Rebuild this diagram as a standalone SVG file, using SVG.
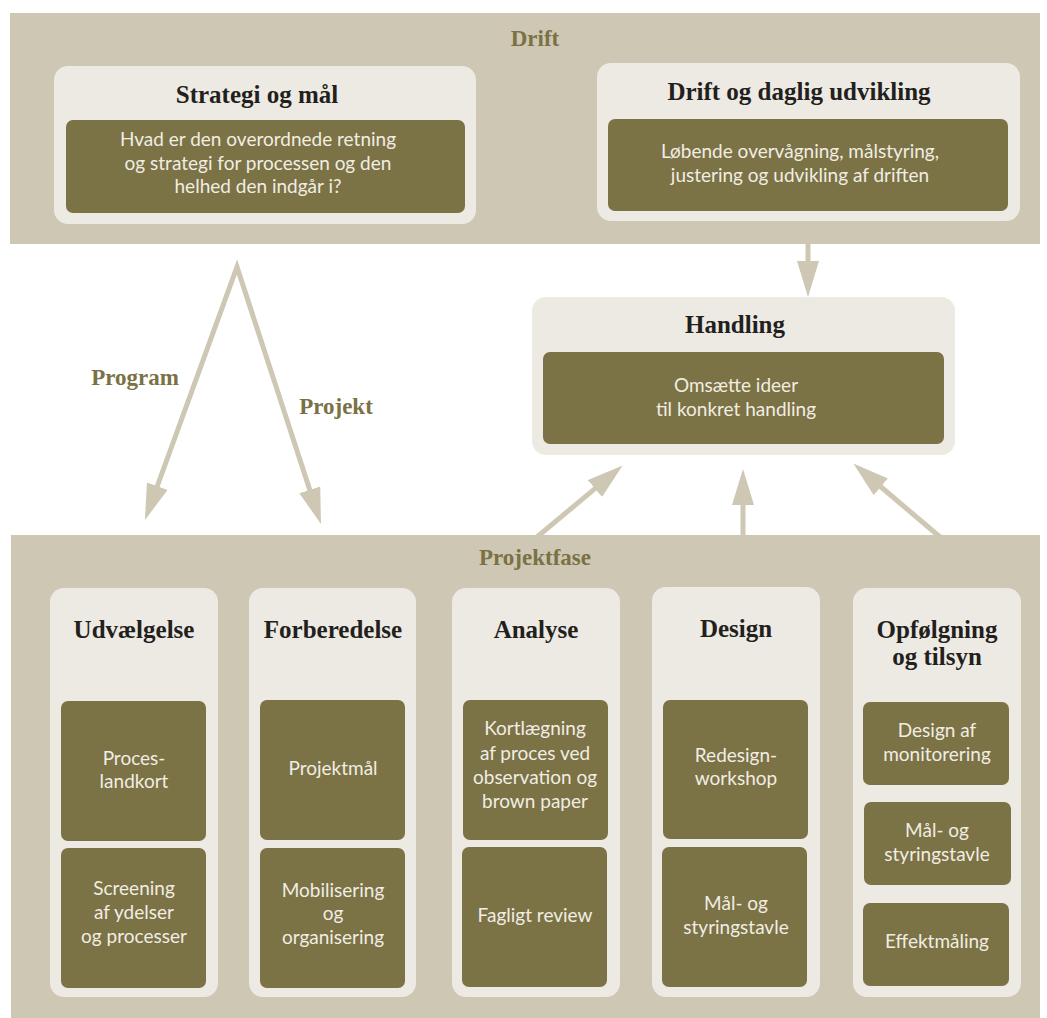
<svg xmlns="http://www.w3.org/2000/svg" width="1047" height="1018" viewBox="0 0 1047 1018">
<defs>
<style>
.band{fill:#cec7b4}
.outer{fill:#edeae4}
.inner{fill:#7b7245}
.title{font-family:"Liberation Serif",serif;font-weight:bold;font-size:25px;fill:#231f1c;text-anchor:middle}
.label{font-family:"Liberation Serif",serif;font-weight:bold;font-size:23px;fill:#7a7245;text-anchor:middle}
.body{font-family:Lato,"Open Sans",sans-serif;font-size:19px;fill:#f1ede3;text-anchor:middle}
.conn{fill:none;stroke:#cec7b4;stroke-width:5;stroke-linejoin:miter;stroke-miterlimit:20}
</style>
<marker id="ah" markerUnits="userSpaceOnUse" markerWidth="36" markerHeight="22" viewBox="0 0 36 22" refX="2" refY="11" orient="auto-start-reverse">
<path d="M0,0 L36,11 L0,22 z" fill="#cec7b4"/>
</marker>
</defs>
<rect width="1047" height="1018" fill="#ffffff"/>
<g id="band-drift">
<rect class="band" x="10" y="13" width="1030" height="231"/>
<text class="label" x="535" y="46">Drift</text>
</g>
<g id="band-projektfase">
<rect class="band" x="11" y="535" width="1029" height="483"/>
<text class="label" x="535" y="565">Projektfase</text>
</g>
<g id="connectors">
<path class="conn" d="M597,147 L515,147" marker-end="url(#ah)"/>
<path class="conn" d="M808,240 L808,263" marker-end="url(#ah)"/>
<path class="conn" d="M156.6,488 L237,267 L310.4,491.7" marker-start="url(#ah)" marker-end="url(#ah)"/>
<path class="conn" d="M537,537 L596.5,487.3" marker-end="url(#ah)"/>
<path class="conn" d="M743,537 L743,503" marker-end="url(#ah)"/>
<path class="conn" d="M940,537 L879.3,485.5" marker-end="url(#ah)"/>
<text class="label" x="135" y="385">Program</text>
<text class="label" x="336" y="414">Projekt</text>
</g>
<g id="strategi">
<rect class="outer" x="54" y="66" width="422" height="158" rx="14"/>
<text class="title" x="257" y="103">Strategi og mål</text>
<rect class="inner" x="66" y="120" width="399" height="93" rx="7"/>
<text class="body" x="258" y="146">Hvad er den overordnede retning</text>
<text class="body" x="258" y="170">og strategi for processen og den</text>
<text class="body" x="258" y="193">helhed den indgår i?</text>
</g>
<g id="drift-daglig">
<rect class="outer" x="597" y="63" width="423" height="158" rx="14"/>
<text class="title" x="799" y="100">Drift og daglig udvikling</text>
<rect class="inner" x="608" y="119" width="400" height="92" rx="7"/>
<text class="body" x="800" y="158">Løbende overvågning, målstyring,</text>
<text class="body" x="800" y="182">justering og udvikling af driften</text>
</g>
<g id="handling">
<rect class="outer" x="532" y="297" width="423" height="158" rx="14"/>
<text class="title" x="735" y="333">Handling</text>
<rect class="inner" x="543" y="352" width="401" height="92" rx="7"/>
<text class="body" x="736" y="392">Omsætte ideer</text>
<text class="body" x="736" y="416">til konkret handling</text>
</g>
<g id="udvaelgelse">
<rect class="outer" x="50" y="588" width="168" height="409" rx="14"/>
<text class="title" x="134" y="638">Udvælgelse</text>
<rect class="inner" x="61" y="701" width="145" height="140" rx="7"/>
<text class="body" x="134" y="765">Proces-</text>
<text class="body" x="134" y="788">landkort</text>
<rect class="inner" x="61" y="848" width="145" height="140" rx="7"/>
<text class="body" x="134" y="895">Screening</text>
<text class="body" x="134" y="919">af ydelser</text>
<text class="body" x="134" y="943">og processer</text>
</g>
<g id="forberedelse">
<rect class="outer" x="249" y="588" width="167" height="409" rx="14"/>
<text class="title" x="333" y="638">Forberedelse</text>
<rect class="inner" x="260" y="700" width="145" height="140" rx="7"/>
<text class="body" x="333" y="775">Projektmål</text>
<rect class="inner" x="260" y="848" width="145" height="140" rx="7"/>
<text class="body" x="333" y="897">Mobilisering</text>
<text class="body" x="333" y="920">og</text>
<text class="body" x="333" y="944">organisering</text>
</g>
<g id="analyse">
<rect class="outer" x="452" y="588" width="168" height="409" rx="14"/>
<text class="title" x="536" y="638">Analyse</text>
<rect class="inner" x="463" y="700" width="145" height="140" rx="7"/>
<text class="body" x="535" y="735">Kortlægning</text>
<text class="body" x="535" y="760">af proces ved</text>
<text class="body" x="535" y="784">observation og</text>
<text class="body" x="535" y="808">brown paper</text>
<rect class="inner" x="462" y="847" width="145" height="140" rx="7"/>
<text class="body" x="535" y="922">Fagligt review</text>
</g>
<g id="design">
<rect class="outer" x="652" y="587" width="168" height="410" rx="14"/>
<text class="title" x="736" y="637">Design</text>
<rect class="inner" x="663" y="700" width="145" height="139" rx="7"/>
<text class="body" x="736" y="762">Redesign-</text>
<text class="body" x="736" y="785">workshop</text>
<rect class="inner" x="662" y="847" width="145" height="140" rx="7"/>
<text class="body" x="736" y="910">Mål- og</text>
<text class="body" x="736" y="934">styringstavle</text>
</g>
<g id="opfoelgning">
<rect class="outer" x="853" y="588" width="168" height="409" rx="14"/>
<text class="title" x="937" y="638">Opfølgning</text>
<text class="title" x="937" y="665">og tilsyn</text>
<rect class="inner" x="863" y="702" width="146" height="83" rx="7"/>
<text class="body" x="937" y="737">Design af</text>
<text class="body" x="937" y="761">monitorering</text>
<rect class="inner" x="864" y="802" width="147" height="83" rx="7"/>
<text class="body" x="937" y="837">Mål- og</text>
<text class="body" x="937" y="861">styringstavle</text>
<rect class="inner" x="863" y="903" width="146" height="83" rx="7"/>
<text class="body" x="937" y="948">Effektmåling</text>
</g>
</svg>
